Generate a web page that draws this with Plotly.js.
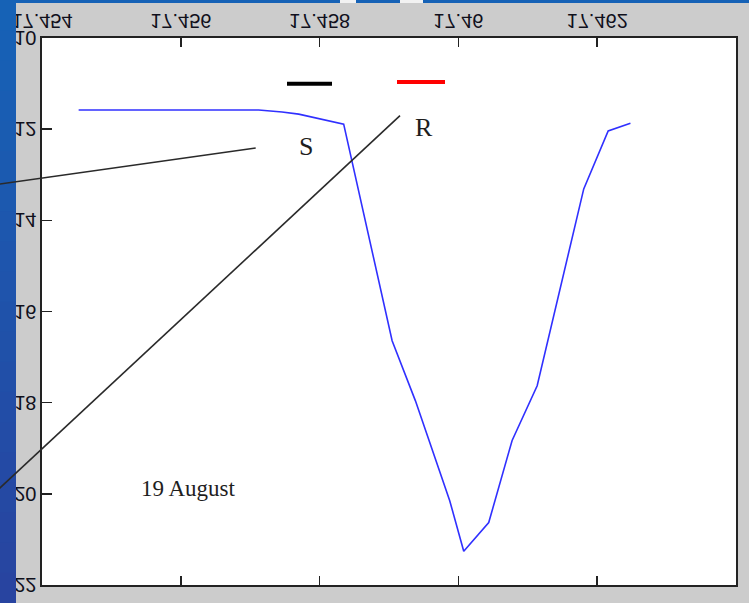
<!DOCTYPE html>
<html>
<head>
<meta charset="utf-8">
<script src="https://cdn.plot.ly/plotly-3.0.1.min.js"></script>
<style>
  html, body { margin: 0; padding: 0; background: #cccccc; }
  #chart { width: 749px; height: 603px; }
</style>
</head>
<body>
<div id="chart"></div>
<script>
// ---- data ----
var timeValues = [17.454528, 17.457122, 17.457459, 17.457699, 17.458347, 17.459045,
                  17.459381, 17.459875, 17.460077, 17.460437, 17.460774, 17.461135,
                  17.461806, 17.462158, 17.462479];
var magValues  = [11.58, 11.58, 11.625, 11.67, 11.89, 16.64,
                  17.96, 20.15, 21.26, 20.63, 18.83, 17.63,
                  13.31, 12.04, 11.87];
var xTickVals  = [17.454, 17.456, 17.458, 17.460, 17.462, 17.464];
var xTickText  = ['17.454', '17.456', '17.458', '17.46', '17.462', '17.464'];
var yTickVals  = [10, 12, 14, 16, 18, 20, 22];
var yTickText  = ['10', '12', '14', '16', '18', '20', '22'];
var dateLabel  = '19 August';
var markerLabels = ['S', 'R'];

// ---- figure ----
var trace = {
  x: timeValues,
  y: magValues,
  type: 'scatter',
  mode: 'lines',
  line: { color: '#3030ff', width: 1.6 },
  hoverinfo: 'skip'
};

// left blue gradient strip (stepped)
var shapes = [];
var nBands = 20;
var colTop = [22, 98, 182], colBot = [40, 68, 160];
for (var i = 0; i < nBands; i++) {
  var f = i / (nBands - 1);
  var c = 'rgb(' + Math.round(colTop[0] + (colBot[0] - colTop[0]) * f) + ',' +
                   Math.round(colTop[1] + (colBot[1] - colTop[1]) * f) + ',' +
                   Math.round(colTop[2] + (colBot[2] - colTop[2]) * f) + ')';
  var yTopPx = 603 * i / nBands, yBotPx = 603 * (i + 1) / nBands + 1;
  shapes.push({
    type: 'rect', xref: 'paper', yref: 'paper', layer: 'above',
    x0: (0 - 42) / 694, x1: (16 - 42) / 694,
    y0: (585 - yTopPx) / 547, y1: (585 - yBotPx) / 547,
    fillcolor: c, line: { width: 0 }
  });
}
// top blue strip
shapes.push({
  type: 'rect', xref: 'paper', yref: 'paper', layer: 'above',
  x0: (0 - 42) / 694, x1: (749 - 42) / 694,
  y0: (585 - 0) / 547, y1: (585 - 3) / 547,
  fillcolor: 'rgb(22,98,182)', line: { width: 0 }
});
// small white flecks in the top strip
[[340, 356], [400, 423]].forEach(function (r) {
  shapes.push({
    type: 'rect', xref: 'paper', yref: 'paper', layer: 'above',
    x0: (r[0] - 42) / 694, x1: (r[1] - 42) / 694,
    y0: (585 - 0) / 547, y1: (585 - 3) / 547,
    fillcolor: '#f2f2f2', line: { width: 0 }
  });
});
// pointer lines for S and R
shapes.push({
  type: 'line', xref: 'paper', yref: 'paper', layer: 'above',
  x0: (255.7 - 42) / 694, y0: (585 - 148) / 547,
  x1: (-1 - 42) / 694, y1: (585 - 184.2) / 547,
  line: { color: '#2a2a2a', width: 1.6 }
});
shapes.push({
  type: 'line', xref: 'paper', yref: 'paper', layer: 'above',
  x0: (400 - 42) / 694, y0: (585 - 115.7) / 547,
  x1: (-1 - 42) / 694, y1: (585 - 488.8) / 547,
  line: { color: '#2a2a2a', width: 1.6 }
});
// short black and red bars
shapes.push({
  type: 'line', xref: 'paper', yref: 'paper', layer: 'above',
  x0: (287 - 42) / 694, y0: (585 - 83.7) / 547,
  x1: (332 - 42) / 694, y1: (585 - 83.7) / 547,
  line: { color: '#000000', width: 4 }
});
shapes.push({
  type: 'line', xref: 'paper', yref: 'paper', layer: 'above',
  x0: (397 - 42) / 694, y0: (585 - 82) / 547,
  x1: (445 - 42) / 694, y1: (585 - 82) / 547,
  line: { color: '#ff0000', width: 4 }
});

var serif = 'Liberation Serif, Times New Roman, serif';
var annotations = [
  { text: markerLabels[0], xref: 'paper', yref: 'paper',
    x: (306 - 42) / 694, y: (585 - 146) / 547, xanchor: 'center', yanchor: 'middle',
    showarrow: false, font: { family: serif, size: 26, color: '#1e1e1e' } },
  { text: markerLabels[1], xref: 'paper', yref: 'paper',
    x: (423.5 - 42) / 694, y: (585 - 127.5) / 547, xanchor: 'center', yanchor: 'middle',
    showarrow: false, font: { family: serif, size: 26, color: '#1e1e1e' } },
  { text: dateLabel, xref: 'paper', yref: 'paper',
    x: (188 - 42) / 694, y: (585 - 488.7) / 547, xanchor: 'center', yanchor: 'middle',
    showarrow: false, font: { family: serif, size: 23, color: '#1e1e1e' } }
];

var tickFont = { family: 'Liberation Sans, Arial, sans-serif', size: 20, color: '#10101c' };

var layout = {
  width: 749, height: 603,
  margin: { l: 42, r: 13, t: 38, b: 18, pad: 0 },
  paper_bgcolor: '#cccccc',
  plot_bgcolor: '#ffffff',
  showlegend: false,
  xaxis: {
    range: [17.454, 17.464], side: 'top',
    tickmode: 'array', tickvals: xTickVals, ticktext: xTickText,
    ticks: 'inside', ticklen: 9, tickwidth: 1.5, tickcolor: '#222',
    showline: true, linecolor: '#222', linewidth: 1.6, mirror: 'ticks',
    showgrid: false, zeroline: false, tickfont: tickFont, fixedrange: true
  },
  yaxis: {
    range: [22, 10],
    tickmode: 'array', tickvals: yTickVals, ticktext: yTickText,
    ticks: 'inside', ticklen: 10, tickwidth: 1.5, tickcolor: '#222',
    showline: true, linecolor: '#222', linewidth: 1.6, mirror: true,
    showgrid: false, zeroline: false, tickfont: tickFont, fixedrange: true
  },
  shapes: shapes,
  annotations: annotations
};

Plotly.newPlot('chart', [trace], layout, { staticPlot: true, displayModeBar: false }).then(function (gd) {
  // the reference shows the tick labels upside down (mirrored vertically)
  var texts = gd.querySelectorAll('.xtick text, .ytick text');
  texts.forEach(function (t) {
    var bb = t.getBBox();
    var cy = bb.y + bb.height / 2;
    var tr = t.getAttribute('transform') || '';
    t.setAttribute('transform', tr + ' translate(0,' + (2 * cy) + ') scale(1,-1)');
  });
});
</script>
</body>
</html>
